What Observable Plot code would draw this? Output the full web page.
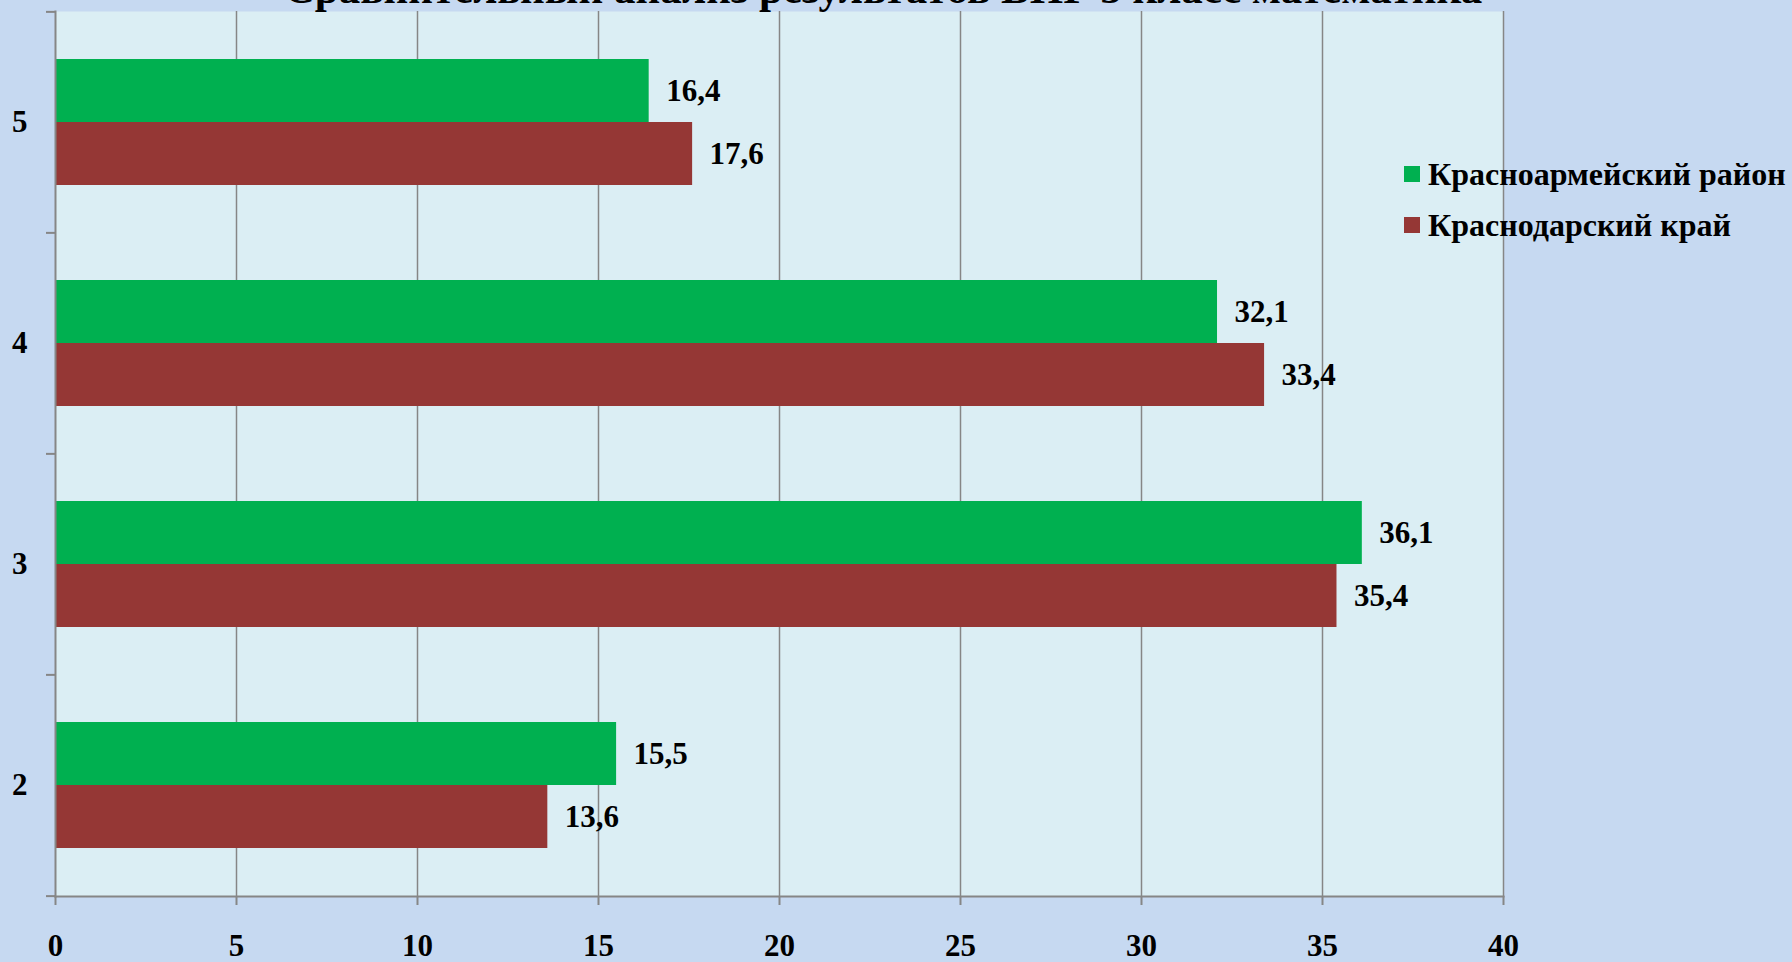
<!DOCTYPE html>
<html>
<head>
<meta charset="utf-8">
<script src="https://cdn.jsdelivr.net/npm/d3@7"></script>
<script src="https://cdn.jsdelivr.net/npm/@observablehq/plot@0.6"></script>
<style>
  html, body { margin: 0; padding: 0; background: #c6d9f1; overflow: hidden; }
  #wrap { position: relative; width: 1792px; height: 962px; font-family: "Liberation Serif", "Times New Roman", serif; font-weight: bold; color: #000; }
  #title { position: absolute; left: 0; width: 1766px; top: -33px; font-size: 43px; line-height: 43px; text-align: center; white-space: nowrap; }
  .leg { position: absolute; left: 1404px; font-size: 32px; line-height: 32px; white-space: nowrap; display: flex; align-items: center; }
  .sw { width: 16px; height: 16px; margin-right: 8px; display: inline-block; }
  svg { position: absolute; left: 0; top: 0; }
</style>
</head>
<body>
<div id="wrap">
  <div id="chart"></div>
  <div id="title">Сравнительный анализ результатов ВПР 5 класс математика</div>
  <div id="legend"></div>
</div>
<script>
const grades = ["5", "4", "3", "2"];
const seriesNames = ["Красноармейский район", "Краснодарский край"];
const raion = [16.4, 32.1, 36.1, 15.5];
const krai = [17.6, 33.4, 35.4, 13.6];
const xTicks = [0, 5, 10, 15, 20, 25, 30, 35, 40];
const colors = ["#00b050", "#953735"];

const green = grades.map((g, i) => ({grade: g, series: seriesNames[0], value: raion[i]}));
const red = grades.map((g, i) => ({grade: g, series: seriesNames[1], value: krai[i]}));
const fmt = d => d.value.toFixed(1).replace(".", ",");
const gray = "#868686";

const chart = Plot.plot({
  width: 1792,
  height: 962,
  marginLeft: 55,
  marginRight: 289,
  marginTop: 11,
  marginBottom: 66,
  style: {background: "transparent", fontFamily: "'Liberation Serif', 'Times New Roman', serif", fontWeight: "bold", color: "#000", overflow: "visible"},
  x: {domain: [0, 40]},
  y: {domain: grades, paddingInner: 0.43, paddingOuter: 0.215},
  color: {domain: seriesNames, range: colors},
  marks: [
    Plot.frame({fill: "#dbeef4", stroke: null}),
    Plot.ruleX(xTicks.filter(t => t > 0), {stroke: gray, strokeWidth: 1.5}),
    Plot.barX(green, {x: "value", y: "grade", fill: "series", insetBottom: 63}),
    Plot.barX(red, {x: "value", y: "grade", fill: "series", insetTop: 63}),
    Plot.text(green, {x: "value", y: "grade", text: fmt, dx: 17, dy: -31.5, textAnchor: "start", fontSize: 31, fill: "#000"}),
    Plot.text(red, {x: "value", y: "grade", text: fmt, dx: 17, dy: 31.5, textAnchor: "start", fontSize: 31, fill: "#000"}),
    Plot.frame({anchor: "left", stroke: gray, strokeWidth: 2}),
    Plot.frame({anchor: "bottom", stroke: gray, strokeWidth: 2}),
    Plot.axisY({ticks: grades, text: null, tickSize: 9, dy: -110.625, stroke: gray, strokeWidth: 2, label: null}),
    Plot.axisY({ticks: ["2"], text: null, tickSize: 9, dy: 110.625, stroke: gray, strokeWidth: 2, label: null}),
    Plot.axisY({ticks: grades, tickSize: 0, tickPadding: 28, fontSize: 31, fill: "#000", label: null}),
    Plot.axisX({ticks: xTicks, tickSize: 9, tickPadding: 28, fontSize: 31, stroke: gray, strokeWidth: 2, fill: "#000", label: null})
  ]
});
document.getElementById("chart").appendChild(chart);

const legend = document.getElementById("legend");
seriesNames.forEach((name, i) => {
  const row = document.createElement("div");
  row.className = "leg";
  row.style.top = (158 + i * 51) + "px";
  const sw = document.createElement("span");
  sw.className = "sw";
  sw.style.background = colors[i];
  row.appendChild(sw);
  row.appendChild(document.createTextNode(name));
  legend.appendChild(row);
});
</script>
</body>
</html>
